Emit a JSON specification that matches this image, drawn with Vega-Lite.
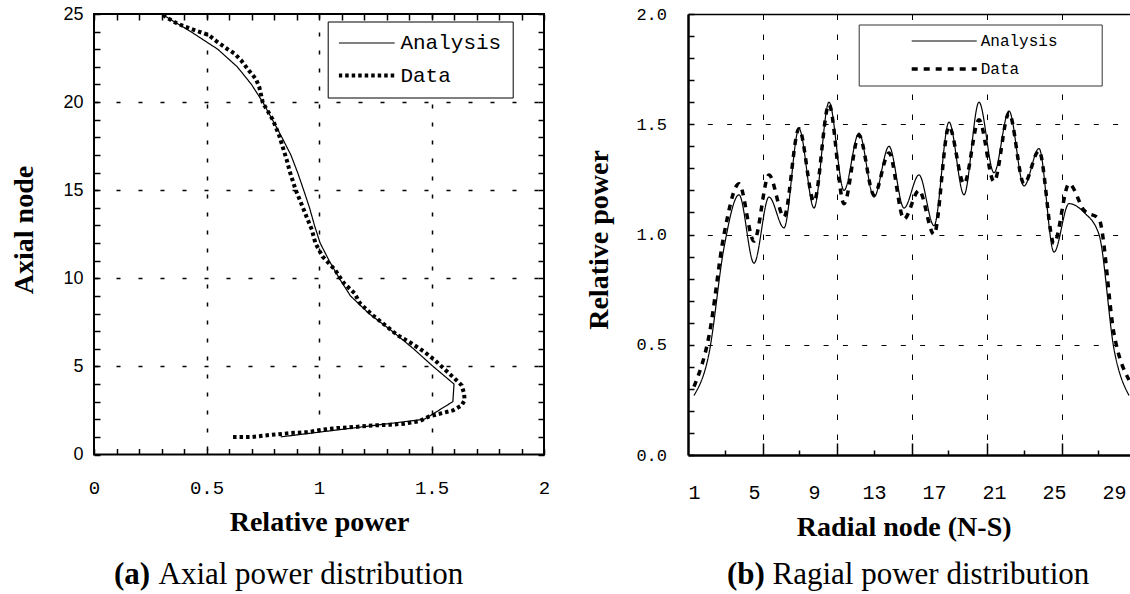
{
  "$schema": "https://vega.github.io/schema/vega-lite/v6.json",
  "autosize": {"type": "pad"},
  "padding": {"left": 9, "top": 4, "right": 0, "bottom": 0},
  "background": "white",
  "spacing": 144,
  "bounds": "flush",
  "resolve": {"scale": {"x": "independent", "y": "independent", "strokeDash": "independent", "strokeWidth": "independent"}, "legend": {"strokeDash": "independent", "strokeWidth": "independent"}},
  "config": {
    "axis": {"labelColor": "black", "tickColor": "black", "gridColor": "black", "titleColor": "black", "domainColor": "black", "labelOverlap": false, "labelFlush": false, "labelBound": false}
  },
  "hconcat": [
    {
      "width": 450,
      "height": 440.5,
      "view": {"stroke": "black", "strokeWidth": 2},
      "resolve": {"scale": {"x": "independent", "y": "independent"}},
      "layer": [
        {
          "data": {"values": [
            {"series": "Analysis", "i": 1, "node": 1, "power": 0.83},
            {"series": "Analysis", "i": 2, "node": 2, "power": 1.468},
            {"series": "Analysis", "i": 3, "node": 3, "power": 1.595},
            {"series": "Analysis", "i": 4, "node": 4, "power": 1.6},
            {"series": "Analysis", "i": 5, "node": 5, "power": 1.507},
            {"series": "Analysis", "i": 6, "node": 6, "power": 1.42},
            {"series": "Analysis", "i": 7, "node": 7, "power": 1.325},
            {"series": "Analysis", "i": 8, "node": 8, "power": 1.222},
            {"series": "Analysis", "i": 9, "node": 9, "power": 1.14},
            {"series": "Analysis", "i": 10, "node": 10, "power": 1.09},
            {"series": "Analysis", "i": 11, "node": 11, "power": 1.045},
            {"series": "Analysis", "i": 12, "node": 12, "power": 1.005},
            {"series": "Analysis", "i": 13, "node": 13, "power": 0.98},
            {"series": "Analysis", "i": 14, "node": 14, "power": 0.958},
            {"series": "Analysis", "i": 15, "node": 15, "power": 0.932},
            {"series": "Analysis", "i": 16, "node": 16, "power": 0.905},
            {"series": "Analysis", "i": 17, "node": 17, "power": 0.875},
            {"series": "Analysis", "i": 18, "node": 18, "power": 0.835},
            {"series": "Analysis", "i": 19, "node": 19, "power": 0.793},
            {"series": "Analysis", "i": 20, "node": 20, "power": 0.75},
            {"series": "Analysis", "i": 21, "node": 21, "power": 0.7},
            {"series": "Analysis", "i": 22, "node": 22, "power": 0.637},
            {"series": "Analysis", "i": 23, "node": 23, "power": 0.55},
            {"series": "Analysis", "i": 24, "node": 24, "power": 0.43},
            {"series": "Analysis", "i": 25, "node": 25, "power": 0.3}
          ]},
          "mark": {"type": "line", "color": "black", "interpolate": "linear", "strokeCap": "butt"},
          "encoding": {
            "x": {"field": "power", "type": "quantitative", "scale": {"domain": [0, 2], "nice": false, "zero": false},
              "axis": {"orient": "bottom", "values": [0,0.1,0.2,0.3,0.4,0.5,0.6,0.7,0.8,0.9,1,1.1,1.2,1.3,1.4,1.5,1.6,1.7,1.8,1.9,2],
                "labelExpr": "(datum.value*2) % 1 == 0 ? format(datum.value, '~g') : ''",
                "labelFont": "Liberation Mono", "labelFontSize": 19, "labelBaseline": "middle", "labelPadding": 39,
                "tickSize": -6, "tickWidth": 1.5, "domain": false,
                "grid": true, "gridDash": [4, 14], "gridWidth": 1.5,
                "gridOpacity": {"condition": {"test": "datum.value == 0.5 || datum.value == 1 || datum.value == 1.5", "value": 1}, "value": 0},
                "title": "Relative power", "titleFont": "Liberation Serif", "titleFontSize": 28, "titleFontWeight": "bold",
                "titleX": 225, "titleY": 76, "titleAlign": "center", "titleBaseline": "alphabetic", "titleAngle": 0}},
            "y": {"field": "node", "type": "quantitative", "scale": {"domain": [0, 25], "nice": false, "zero": false},
              "axis": {"orient": "left", "values": [0,1,2,3,4,5,6,7,8,9,10,11,12,13,14,15,16,17,18,19,20,21,22,23,24,25],
                "labelExpr": "datum.value % 5 == 0 ? format(datum.value, 'd') : ''",
                "labelFont": "Liberation Sans", "labelFontSize": 18, "labelBaseline": "middle", "labelPadding": 17,
                "tickSize": -6, "tickWidth": 1.5, "domain": false,
                "grid": true, "gridDash": [4, 18], "gridWidth": 1.5,
                "gridOpacity": {"condition": {"test": "datum.value == 5 || datum.value == 10 || datum.value == 15 || datum.value == 20", "value": 1}, "value": 0},
                "title": "Axial node", "titleFont": "Liberation Serif", "titleFontSize": 28, "titleFontWeight": "bold",
                "titleX": -61.5, "titleY": 215.5, "titleAlign": "center", "titleBaseline": "alphabetic", "titleAngle": 270}},
            "order": {"field": "i", "type": "quantitative"},
            "strokeWidth": {"field": "series", "type": "nominal",
              "scale": {"domain": ["Analysis", "Data"], "range": [1.2, 4]},
              "legend": {"orient": "none", "legendX": 233.7, "legendY": 7.5, "title": null, "symbolType": "stroke",
                "symbolSize": 3136, "symbolStrokeColor": "black", "labelFont": "Liberation Mono", "labelFontSize": 21,
                "labelColor": "black", "labelOffset": 3.7, "symbolOffset": -2, "padding": 11, "rowPadding": 10.6, "clipHeight": 21,
                "strokeColor": "black", "fillColor": "white", "labelLimit": 0}},
            "strokeDash": {"field": "series", "type": "nominal",
              "scale": {"domain": ["Analysis", "Data"], "range": [[1, 0], [3.5, 3]]},
              "legend": {"orient": "none", "legendX": 233.7, "legendY": 7.5, "title": null, "symbolType": "stroke",
                "symbolSize": 3136, "symbolStrokeColor": "black", "labelFont": "Liberation Mono", "labelFontSize": 21,
                "labelColor": "black", "labelOffset": 3.7, "symbolOffset": -2, "padding": 11, "rowPadding": 10.6, "clipHeight": 21,
                "strokeColor": "black", "fillColor": "white", "labelLimit": 0}}
          }
        },
        {
          "data": {"values": [
            {"series": "Data", "i": 1, "node": 0.99, "power": 0.618},
            {"series": "Data", "i": 2, "node": 0.99, "power": 0.698},
            {"series": "Data", "i": 3, "node": 1.08, "power": 0.761},
            {"series": "Data", "i": 4, "node": 1.14, "power": 0.809},
            {"series": "Data", "i": 5, "node": 1.23, "power": 0.888},
            {"series": "Data", "i": 6, "node": 1.27, "power": 0.952},
            {"series": "Data", "i": 7, "node": 1.41, "power": 1.015},
            {"series": "Data", "i": 8, "node": 1.5, "power": 1.079},
            {"series": "Data", "i": 9, "node": 1.56, "power": 1.158},
            {"series": "Data", "i": 10, "node": 1.65, "power": 1.237},
            {"series": "Data", "i": 11, "node": 1.69, "power": 1.317},
            {"series": "Data", "i": 12, "node": 1.75, "power": 1.38},
            {"series": "Data", "i": 13, "node": 1.88, "power": 1.444},
            {"series": "Data", "i": 14, "node": 2.16, "power": 1.49},
            {"series": "Data", "i": 15, "node": 2.35, "power": 1.547},
            {"series": "Data", "i": 16, "node": 2.5, "power": 1.595},
            {"series": "Data", "i": 17, "node": 2.79, "power": 1.634},
            {"series": "Data", "i": 18, "node": 3.08, "power": 1.647},
            {"series": "Data", "i": 19, "node": 3.46, "power": 1.645},
            {"series": "Data", "i": 20, "node": 3.93, "power": 1.634},
            {"series": "Data", "i": 21, "node": 4.31, "power": 1.603},
            {"series": "Data", "i": 22, "node": 4.78, "power": 1.563},
            {"series": "Data", "i": 23, "node": 5.35, "power": 1.515},
            {"series": "Data", "i": 24, "node": 5.83, "power": 1.468},
            {"series": "Data", "i": 25, "node": 6.3, "power": 1.412},
            {"series": "Data", "i": 26, "node": 6.78, "power": 1.348},
            {"series": "Data", "i": 27, "node": 7.35, "power": 1.293},
            {"series": "Data", "i": 28, "node": 7.92, "power": 1.237},
            {"series": "Data", "i": 29, "node": 8.58, "power": 1.182},
            {"series": "Data", "i": 30, "node": 9.15, "power": 1.158},
            {"series": "Data", "i": 31, "node": 9.72, "power": 1.111},
            {"series": "Data", "i": 32, "node": 10.48, "power": 1.071},
            {"series": "Data", "i": 33, "node": 11.24, "power": 1.015},
            {"series": "Data", "i": 34, "node": 12.0, "power": 0.984},
            {"series": "Data", "i": 35, "node": 12.76, "power": 0.968},
            {"series": "Data", "i": 36, "node": 13.51, "power": 0.944},
            {"series": "Data", "i": 37, "node": 14.28, "power": 0.92},
            {"series": "Data", "i": 38, "node": 15.03, "power": 0.896},
            {"series": "Data", "i": 39, "node": 15.98, "power": 0.872},
            {"series": "Data", "i": 40, "node": 16.74, "power": 0.856},
            {"series": "Data", "i": 41, "node": 17.4, "power": 0.84},
            {"series": "Data", "i": 42, "node": 18.07, "power": 0.824},
            {"series": "Data", "i": 43, "node": 18.55, "power": 0.809},
            {"series": "Data", "i": 44, "node": 19.02, "power": 0.794},
            {"series": "Data", "i": 45, "node": 19.49, "power": 0.772},
            {"series": "Data", "i": 46, "node": 19.97, "power": 0.75},
            {"series": "Data", "i": 47, "node": 20.44, "power": 0.742},
            {"series": "Data", "i": 48, "node": 20.83, "power": 0.735},
            {"series": "Data", "i": 49, "node": 21.3, "power": 0.72},
            {"series": "Data", "i": 50, "node": 21.77, "power": 0.69},
            {"series": "Data", "i": 51, "node": 22.38, "power": 0.653},
            {"series": "Data", "i": 52, "node": 22.76, "power": 0.624},
            {"series": "Data", "i": 53, "node": 23.0, "power": 0.594},
            {"series": "Data", "i": 54, "node": 23.48, "power": 0.542},
            {"series": "Data", "i": 55, "node": 23.77, "power": 0.513},
            {"series": "Data", "i": 56, "node": 23.9, "power": 0.49},
            {"series": "Data", "i": 57, "node": 24.05, "power": 0.453},
            {"series": "Data", "i": 58, "node": 24.3, "power": 0.401},
            {"series": "Data", "i": 59, "node": 24.5, "power": 0.364},
            {"series": "Data", "i": 60, "node": 24.94, "power": 0.305}
          ]},
          "mark": {"type": "line", "color": "black", "interpolate": "linear", "strokeCap": "butt"},
          "encoding": {
            "x": {"field": "power", "type": "quantitative", "scale": {"domain": [0, 2], "nice": false, "zero": false},
              "axis": {"orient": "top", "values": [0,0.1,0.2,0.3,0.4,0.5,0.6,0.7,0.8,0.9,1,1.1,1.2,1.3,1.4,1.5,1.6,1.7,1.8,1.9,2],
                "labels": false, "tickSize": -6, "tickWidth": 1.5, "domain": false, "grid": false,
                "title": "Axial power distribution", "titleFont": "Liberation Serif", "titleFontSize": 31, "titleFontWeight": "normal",
                "titleX": 64, "titleY": 569.5, "titleAlign": "left", "titleBaseline": "alphabetic", "titleAngle": 0}},
            "y": {"field": "node", "type": "quantitative", "scale": {"domain": [0, 25], "nice": false, "zero": false},
              "axis": {"orient": "right", "values": [0,1,2,3,4,5,6,7,8,9,10,11,12,13,14,15,16,17,18,19,20,21,22,23,24,25],
                "labels": false, "tickSize": -6, "tickWidth": 1.5, "domain": false, "grid": false,
                "title": "(a)", "titleFont": "Liberation Serif", "titleFontSize": 31, "titleFontWeight": "bold",
                "titleX": -430.5, "titleY": 569.5, "titleAlign": "left", "titleBaseline": "alphabetic", "titleAngle": 0}},
            "order": {"field": "i", "type": "quantitative"},
            "strokeWidth": {"field": "series", "type": "nominal",
              "scale": {"domain": ["Analysis", "Data"], "range": [1.2, 4]}},
            "strokeDash": {"field": "series", "type": "nominal",
              "scale": {"domain": ["Analysis", "Data"], "range": [[1, 0], [3.5, 3]]}}
          }
        }
      ]
    },
    {
      "width": 443,
      "height": 441,
      "view": {"stroke": null},
      "resolve": {"scale": {"x": "independent", "y": "independent"}},
      "layer": [
        {
          "data": {"values": [
            {"series": "Analysis", "node": 1, "power": 0.27},
            {"series": "Analysis", "node": 2, "power": 0.46},
            {"series": "Analysis", "node": 3, "power": 0.94},
            {"series": "Analysis", "node": 4, "power": 1.18},
            {"series": "Analysis", "node": 5, "power": 0.87},
            {"series": "Analysis", "node": 6, "power": 1.17},
            {"series": "Analysis", "node": 7, "power": 1.03},
            {"series": "Analysis", "node": 8, "power": 1.48},
            {"series": "Analysis", "node": 9, "power": 1.12},
            {"series": "Analysis", "node": 10, "power": 1.6},
            {"series": "Analysis", "node": 11, "power": 1.2},
            {"series": "Analysis", "node": 12, "power": 1.46},
            {"series": "Analysis", "node": 13, "power": 1.17},
            {"series": "Analysis", "node": 14, "power": 1.4},
            {"series": "Analysis", "node": 15, "power": 1.12},
            {"series": "Analysis", "node": 16, "power": 1.27},
            {"series": "Analysis", "node": 17, "power": 1.04},
            {"series": "Analysis", "node": 18, "power": 1.51},
            {"series": "Analysis", "node": 19, "power": 1.18},
            {"series": "Analysis", "node": 20, "power": 1.6},
            {"series": "Analysis", "node": 21, "power": 1.28},
            {"series": "Analysis", "node": 22, "power": 1.56},
            {"series": "Analysis", "node": 23, "power": 1.22},
            {"series": "Analysis", "node": 24, "power": 1.39},
            {"series": "Analysis", "node": 25, "power": 0.92},
            {"series": "Analysis", "node": 26, "power": 1.14},
            {"series": "Analysis", "node": 27, "power": 1.1},
            {"series": "Analysis", "node": 28, "power": 1.0},
            {"series": "Analysis", "node": 29, "power": 0.48},
            {"series": "Analysis", "node": 30, "power": 0.27}
          ]},
          "mark": {"type": "line", "color": "black", "interpolate": "monotone", "strokeCap": "butt"},
          "encoding": {
            "x": {"field": "node", "type": "quantitative", "scale": {"domain": [0.6, 30.133], "nice": false, "zero": false},
              "axis": {"orient": "bottom",
                "values": [1,3.07,5,5.6,8,9,10.53,13,15.55,17,17.92,20.5,21,22.98,25,25.5,27.9,29],
                "labelExpr": "indexof([1,5,9,13,17,21,25,29], datum.value) >= 0 ? format(datum.value, 'd') : ''",
                "labelFont": "Liberation Mono", "labelFontSize": 20, "labelBaseline": "middle", "labelPadding": 42.2,
                "tickSize": {"condition": {"test": "indexof([5.6,10.53,15.55,20.5,25.5], datum.value) >= 0", "value": -12}, "value": -5},
                "tickOpacity": {"condition": {"test": "indexof([3.07,8,13,17.92,22.98,27.9,5.6,10.53,15.55,20.5,25.5], datum.value) >= 0", "value": 1}, "value": 0},
                "tickWidth": 1.5,
                "domain": true, "domainWidth": 2.5,
                "grid": true, "gridDash": [5.5, 14.5], "gridWidth": 1,
                "gridOpacity": {"condition": {"test": "indexof([5.6,10.53,15.55,20.5,25.5], datum.value) >= 0", "value": 1}, "value": 0},
                "title": "Radial node (N-S)", "titleFont": "Liberation Serif", "titleFontSize": 28, "titleFontWeight": "bold",
                "titleX": 215.7, "titleY": 80.5, "titleAlign": "center", "titleBaseline": "alphabetic", "titleAngle": 0}},
            "y": {"field": "power", "type": "quantitative", "scale": {"domain": [0, 2], "nice": false, "zero": false},
              "axis": {"orient": "left", "values": [0,0.1,0.2,0.3,0.4,0.5,0.6,0.7,0.8,0.9,1,1.1,1.2,1.3,1.4,1.5,1.6,1.7,1.8,1.9,2],
                "labelExpr": "(datum.value*2) % 1 == 0 ? format(datum.value, '.1f') : ''",
                "labelFont": "Liberation Mono", "labelFontSize": 17, "labelBaseline": "middle", "labelPadding": 27.5,
                "tickSize": -6, "tickWidth": 1.5, "domain": true, "domainWidth": 2.5,
                "grid": true, "gridDash": [5, 14.3], "gridWidth": 1,
                "gridOpacity": {"condition": {"test": "datum.value == 0.5 || datum.value == 1 || datum.value == 1.5", "value": 1}, "value": 0},
                "title": "Relative power", "titleFont": "Liberation Serif", "titleFontSize": 28, "titleFontWeight": "bold",
                "titleX": -80.5, "titleY": 225.5, "titleAlign": "center", "titleBaseline": "alphabetic", "titleAngle": 270}},
            "strokeWidth": {"field": "series", "type": "nominal",
              "scale": {"domain": ["Analysis", "Data"], "range": [1.2, 3.5]},
              "legend": {"orient": "none", "legendX": 170.7, "legendY": 10.5, "title": null, "symbolType": "stroke",
                "symbolSize": 4225, "symbolStrokeColor": "black", "labelFont": "Liberation Mono", "labelFontSize": 16,
                "labelColor": "black", "labelOffset": 2, "padding": 8, "rowPadding": 11, "clipHeight": 17,
                "symbolOffset": 43, "labelExpr": "datum.label + '\u2800\u2800\u2800'",
                "strokeColor": "#333333", "fillColor": "white", "labelLimit": 0}},
            "strokeDash": {"field": "series", "type": "nominal",
              "scale": {"domain": ["Analysis", "Data"], "range": [[1, 0], [6, 6]]},
              "legend": {"orient": "none", "legendX": 170.7, "legendY": 10.5, "title": null, "symbolType": "stroke",
                "symbolSize": 4225, "symbolStrokeColor": "black", "labelFont": "Liberation Mono", "labelFontSize": 16,
                "labelColor": "black", "labelOffset": 2, "padding": 8, "rowPadding": 11, "clipHeight": 17,
                "symbolOffset": 43, "labelExpr": "datum.label + '\u2800\u2800\u2800'",
                "strokeColor": "#333333", "fillColor": "white", "labelLimit": 0}}
          }
        },
        {
          "data": {"values": [
            {"series": "Data", "node": 1, "power": 0.31},
            {"series": "Data", "node": 2, "power": 0.54},
            {"series": "Data", "node": 3, "power": 1.0},
            {"series": "Data", "node": 4, "power": 1.23},
            {"series": "Data", "node": 5, "power": 0.97},
            {"series": "Data", "node": 6, "power": 1.27},
            {"series": "Data", "node": 7, "power": 1.08},
            {"series": "Data", "node": 8, "power": 1.48},
            {"series": "Data", "node": 9, "power": 1.15},
            {"series": "Data", "node": 10, "power": 1.59},
            {"series": "Data", "node": 11, "power": 1.14},
            {"series": "Data", "node": 12, "power": 1.45},
            {"series": "Data", "node": 13, "power": 1.18},
            {"series": "Data", "node": 14, "power": 1.37},
            {"series": "Data", "node": 15, "power": 1.07},
            {"series": "Data", "node": 16, "power": 1.2},
            {"series": "Data", "node": 17, "power": 1.0},
            {"series": "Data", "node": 18, "power": 1.49},
            {"series": "Data", "node": 19, "power": 1.23},
            {"series": "Data", "node": 20, "power": 1.52},
            {"series": "Data", "node": 21, "power": 1.24},
            {"series": "Data", "node": 22, "power": 1.55},
            {"series": "Data", "node": 23, "power": 1.23},
            {"series": "Data", "node": 24, "power": 1.38},
            {"series": "Data", "node": 25, "power": 0.96},
            {"series": "Data", "node": 26, "power": 1.23},
            {"series": "Data", "node": 27, "power": 1.11},
            {"series": "Data", "node": 28, "power": 1.07},
            {"series": "Data", "node": 29, "power": 0.55},
            {"series": "Data", "node": 30, "power": 0.34}
          ]},
          "mark": {"type": "line", "color": "black", "interpolate": "monotone", "strokeCap": "butt"},
          "encoding": {
            "x": {"field": "node", "type": "quantitative", "scale": {"domain": [0.6, 30.133], "nice": false, "zero": false},
              "axis": {"orient": "top", "ticks": false, "labels": false, "domain": true, "domainWidth": 1.5, "grid": false,
                "title": "Ragial power distribution", "titleFont": "Liberation Serif", "titleFontSize": 31, "titleFontWeight": "normal",
                "titleX": 84, "titleY": 569.5, "titleAlign": "left", "titleBaseline": "alphabetic", "titleAngle": 0}},
            "y": {"field": "power", "type": "quantitative", "scale": {"domain": [0, 2], "nice": false, "zero": false},
              "axis": {"orient": "right", "ticks": false, "labels": false, "domain": false, "grid": false,
                "title": "(b)", "titleFont": "Liberation Serif", "titleFontSize": 31, "titleFontWeight": "bold",
                "titleX": -404.5, "titleY": 569.5, "titleAlign": "left", "titleBaseline": "alphabetic", "titleAngle": 0}},
            "strokeWidth": {"field": "series", "type": "nominal",
              "scale": {"domain": ["Analysis", "Data"], "range": [1.2, 3.5]}},
            "strokeDash": {"field": "series", "type": "nominal",
              "scale": {"domain": ["Analysis", "Data"], "range": [[1, 0], [6, 6]]}}
          }
        }
      ]
    }
  ]
}
